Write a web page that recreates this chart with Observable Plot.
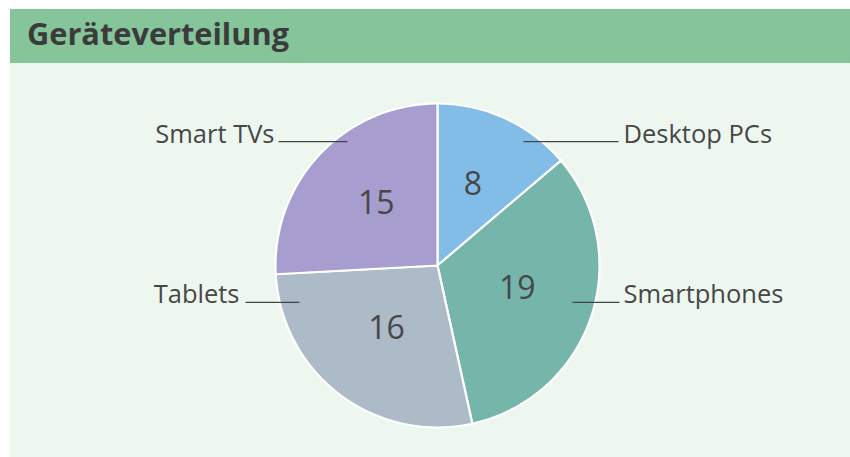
<!DOCTYPE html>
<html>
<head>
<meta charset="utf-8">
<script src="https://cdn.jsdelivr.net/npm/d3@7"></script>
<script src="https://cdn.jsdelivr.net/npm/@observablehq/plot@0.6"></script>
<style>
  html, body { margin: 0; padding: 0; background: #ffffff; }
  #wrap { position: absolute; left: 10px; top: 9px; width: 840px; }
  #title { height: 54px; background: #85c599; position: relative; }
  #title span { position: absolute; left: 17px; top: 7px; font-family: "Open Sans", sans-serif; font-weight: 700;
    font-size: 30px; color: #3b3b3b; white-space: nowrap; transform-origin: 0 0; display: inline-block; line-height: 36px; }
  #chart svg { display: block; }
</style>
</head>
<body>
<div id="wrap">
  <div id="title"><span id="tt">Geräteverteilung</span></div>
  <div id="chart"></div>
</div>
<script>
// ---- data ----
const categories = ["Desktop PCs", "Smartphones", "Tablets", "Smart TVs"];
const values = [8, 19, 16, 15];
const colors = ["#82bde8", "#76b6aa", "#adbac7", "#a89dcf"];

// label leader layout (unit-circle coordinates, separate from data)
const labelRowY = [0.765, -0.228, -0.228, 0.765];
const leaderInnerX = [0.531, 0.833, -0.852, -0.556];
const leaderOuterX = [1.117, 1.123, -1.185, -0.981];
const labelTextX = [1.148, 1.148, -1.222, -1.006];

// ---- build geometry from data ----
const slices = d3.pie().sort(null).value(d => d.value).startAngle(0).endAngle(2 * Math.PI)(
  categories.map((c, i) => ({ name: c, value: values[i] }))
);
const pts = [];
for (const s of slices) {
  const name = s.data.name;
  pts.push({ name, x: 0, y: 0 });
  const n = Math.max(2, Math.ceil((s.endAngle - s.startAngle) / (Math.PI / 180)));
  for (let k = 0; k <= n; k++) {
    const a = s.startAngle + (s.endAngle - s.startAngle) * k / n;
    pts.push({ name, x: Math.sin(a), y: Math.cos(a) });
  }
  pts.push({ name, x: 0, y: 0 });
}
const valueLabels = slices.map(s => {
  const a = (s.startAngle + s.endAngle) / 2;
  return { v: s.data.value, x: 0.52 * Math.sin(a), y: 0.52 * Math.cos(a) };
});
const leaders = categories.map((c, i) => ({ name: c, x1: leaderInnerX[i], x2: leaderOuterX[i], y: labelRowY[i], tx: labelTextX[i] }));

const W = 840, H = 394, R = 162, CX = 427, CY = 202;
const labelStyle = { x: "tx", y: "y", text: "name", lineAnchor: "bottom", dy: 1, fontSize: 25.5, fill: "#474747", fontFamily: "Open Sans" };
const plot = Plot.plot({
  width: W, height: H,
  marginLeft: CX - R, marginRight: W - (CX + R),
  marginTop: CY - R, marginBottom: H - (CY + R),
  x: { domain: [-1, 1], axis: null },
  y: { domain: [-1, 1], axis: null },
  color: { domain: categories, range: colors },
  style: { background: "#edf7ef", overflow: "visible" },
  marks: [
    Plot.line(pts, { x: "x", y: "y", z: "name", fill: "name", stroke: "white", strokeWidth: 2.2, strokeLinejoin: "round", curve: "linear" }),
    Plot.text(valueLabels, { x: "x", y: "y", text: d => String(d.v), dy: -4, fontSize: 32, fill: "#474747", fontFamily: "Open Sans" }),
    Plot.link(leaders, { x1: "x1", x2: "x2", y1: "y", y2: "y", stroke: "#444", strokeWidth: 1.3 }),
    Plot.text(leaders.filter(d => d.tx > 0), { ...labelStyle, textAnchor: "start" }),
    Plot.text(leaders.filter(d => d.tx < 0), { ...labelStyle, textAnchor: "end" })
  ]
});
document.getElementById("chart").appendChild(plot);

// fit title width
const tt = document.getElementById("tt");
const w = tt.getBoundingClientRect().width;
tt.style.transform = `scaleX(${262 / w})`;
</script>
</body>
</html>
